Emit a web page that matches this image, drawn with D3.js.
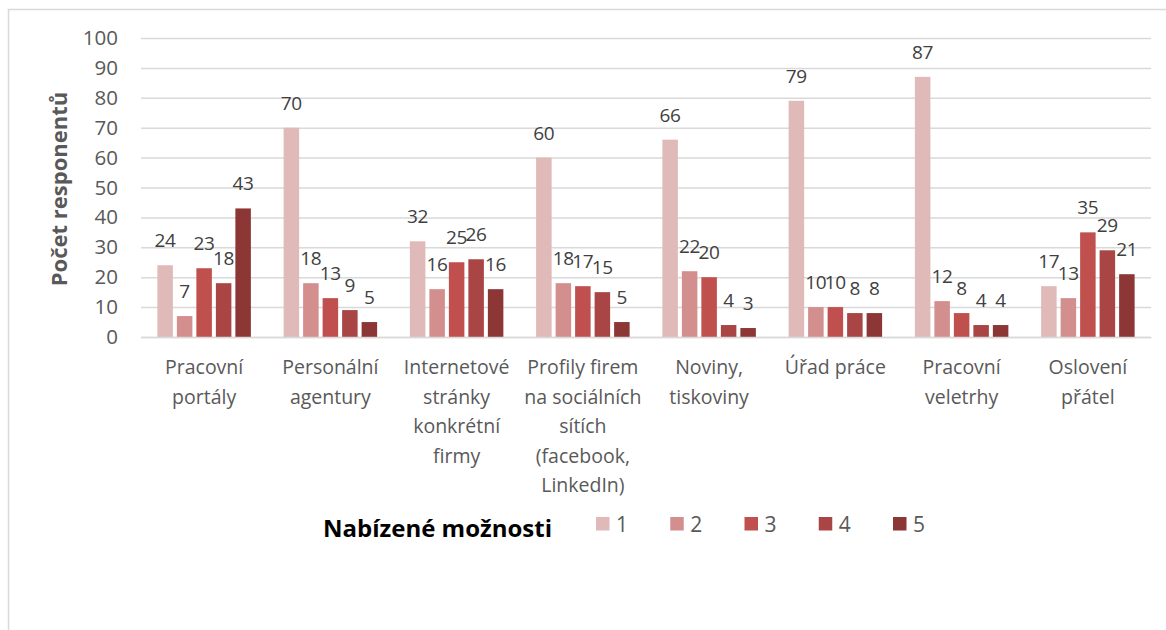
<!DOCTYPE html>
<html>
<head>
<meta charset="utf-8">
<script src="https://cdn.jsdelivr.net/npm/d3@7"></script>
<style>
  html, body { margin: 0; padding: 0; background: #fff; }
  svg { display: block; font-family: "Open Sans", Lato, sans-serif; }
</style>
</head>
<body>
<svg id="chart" width="1166" height="630"></svg>
<script>
// Categories (line breaks follow the wrapped axis labels)
const categories = [
  "Pracovní\nportály",
  "Personální\nagentury",
  "Internetové\nstránky\nkonkrétní\nfirmy",
  "Profily firem\nna sociálních\nsítích\n(facebook,\nLinkedIn)",
  "Noviny,\ntiskoviny",
  "Úřad práce",
  "Pracovní\nveletrhy",
  "Oslovení\npřátel"
];

// Respondent counts per answer option
const seriesNames = ["1", "2", "3", "4", "5"];
const option1 = [24, 70, 32, 60, 66, 79, 87, 17];
const option2 = [7, 18, 16, 18, 22, 10, 12, 13];
const option3 = [23, 13, 25, 17, 20, 10, 8, 35];
const option4 = [18, 9, 26, 15, 4, 8, 4, 29];
const option5 = [43, 5, 16, 5, 3, 8, 4, 21];
const seriesValues = [option1, option2, option3, option4, option5];

const yTicks = [0, 10, 20, 30, 40, 50, 60, 70, 80, 90, 100];
const colors = ["#e0b9b9", "#d38e8e", "#c0504d", "#a94545", "#8c3636"];

const yTitle = "Počet responentů";
const legendTitle = "Nabízené možnosti";

const svg = d3.select("#chart");

// outer chart frame
svg.append("rect")
  .attr("x", 8.5).attr("y", 9.5)
  .attr("width", 1300).attr("height", 800)
  .attr("fill", "none")
  .attr("stroke", "#d9d9d9")
  .attr("stroke-width", 1.5);

const plot = { left: 141, right: 1151, top: 38, bottom: 337 };

const x0 = d3.scaleBand()
  .domain(d3.range(categories.length))
  .range([plot.left, plot.right])
  .paddingInner(0).paddingOuter(0);

const x1 = d3.scaleBand()
  .domain(d3.range(seriesNames.length))
  .range([0, x0.bandwidth()])
  .paddingInner(0.205)
  .paddingOuter(0.84);

const y = d3.scaleLinear().domain([0, 100]).range([plot.bottom, plot.top]);

// y axis with gridlines
const yAxis = svg.append("g")
  .attr("transform", `translate(${plot.left},0)`)
  .call(d3.axisLeft(y).tickValues(yTicks)
    .tickSize(-(plot.right - plot.left)).tickPadding(23));
yAxis.select(".domain").remove();
yAxis.selectAll(".tick line")
  .attr("stroke", "#d9d9d9").attr("stroke-width", 1.5);
yAxis.selectAll(".tick text")
  .attr("fill", "#595959")
  .style("font-size", "20.5px")
  .style("font-family", "'Open Sans', sans-serif");

// bars
const groups = svg.append("g").selectAll("g")
  .data(seriesValues)
  .join("g")
  .attr("fill", (d, i) => colors[i]);

groups.each(function (vals, si) {
  d3.select(this).selectAll("rect")
    .data(vals)
    .join("rect")
    .attr("x", (v, ci) => x0(ci) + x1(si))
    .attr("width", x1.bandwidth())
    .attr("y", v => y(v))
    .attr("height", v => y(0) - y(v));
});

// data labels
groups.each(function (vals, si) {
  d3.select(this).selectAll("text")
    .data(vals)
    .join("text")
    .attr("x", (v, ci) => x0(ci) + x1(si) + x1.bandwidth() / 2)
    .attr("y", v => y(v) - 18)
    .attr("text-anchor", "middle")
    .attr("fill", "#404040")
    .style("font-size", "19px")
    .style("letter-spacing", "-0.3px")
    .text(v => v);
});

// category axis labels
const xAxis = svg.append("g")
  .attr("transform", `translate(0,${plot.bottom})`)
  .call(d3.axisBottom(x0).tickSize(0).tickFormat(() => ""));
xAxis.select(".domain")
  .attr("stroke", "#d9d9d9").attr("stroke-width", 1.5);

const catLabels = svg.append("g").selectAll("text")
  .data(categories)
  .join("text")
  .attr("x", (d, i) => x0(i) + x0.bandwidth() / 2)
  .attr("y", 374)
  .attr("text-anchor", "middle")
  .attr("fill", "#595959")
  .style("font-size", "19.5px");
catLabels.each(function (d) {
  const t = d3.select(this);
  const x = t.attr("x");
  d.split("\n").forEach((line, k) => {
    t.append("tspan").attr("x", x).attr("dy", k === 0 ? 0 : 29.5).text(line);
  });
});

// y axis title
svg.append("text")
  .attr("transform", `translate(67,189) rotate(-90)`)
  .attr("text-anchor", "middle")
  .attr("fill", "#595959")
  .style("font-size", "22px")
  .style("font-weight", "bold")
  .text(yTitle);

// legend
const legend = svg.append("g");
legend.append("text")
  .attr("x", 323).attr("y", 537)
  .attr("fill", "#000")
  .style("font-size", "24px")
  .style("font-weight", "bold")
  .text(legendTitle);

const legendX = d3.scalePoint().domain(seriesNames).range([596, 893]);
const items = legend.selectAll("g.item")
  .data(seriesNames)
  .join("g")
  .attr("class", "item")
  .attr("transform", d => `translate(${legendX(d)},517)`);
items.append("rect")
  .attr("width", 13.5).attr("height", 13.5)
  .attr("fill", (d, i) => colors[i]);
items.append("text")
  .attr("x", 20).attr("y", 14.5)
  .attr("fill", "#595959")
  .style("font-size", "21px")
  .text(d => d);
</script>
</body>
</html>
